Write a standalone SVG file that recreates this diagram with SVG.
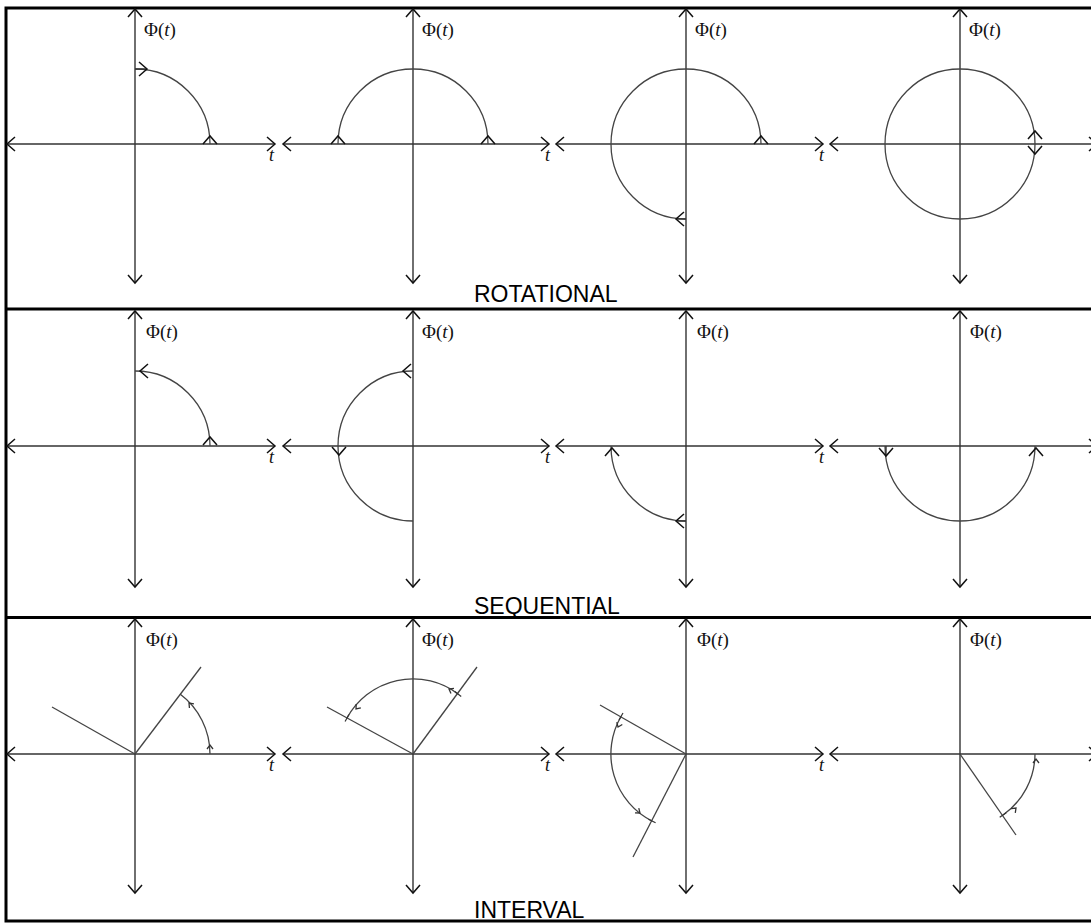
<svg xmlns="http://www.w3.org/2000/svg" xmlns:xlink="http://www.w3.org/1999/xlink" width="1091" height="923" viewBox="0 0 1091 923">
<defs>
<style>
.frame{fill:none;stroke:#000;stroke-width:3}
.sep{stroke:#000;stroke-width:3}
.ax{stroke:#333;stroke-width:1.4;fill:none}
.arc{stroke:#444;stroke-width:1.3;fill:none}
.ray{stroke:#444;stroke-width:1.3;fill:none}
.tick{stroke:#333;stroke-width:1.2}
.phi{font-family:"Liberation Serif","Times New Roman",serif;font-size:19px;fill:#111}
.tl{font-family:"Liberation Serif","Times New Roman",serif;font-size:18px;font-style:italic;fill:#111}
.title{font-family:"Liberation Sans",Arial,sans-serif;font-size:23px;fill:#000}
</style>
<path id="ch" d="M-8,-7 L0,0 L-8,7" fill="none" stroke="#111" stroke-width="1.5"/>
<path id="sm" d="M-4,-3 L0,0 L-4,3" fill="none" stroke="#333" stroke-width="1.3"/>
</defs>
<rect width="1091" height="923" fill="#fff"/>
<rect class="frame" x="6" y="8" width="1100" height="913"/>
<line class="sep" x1="6" y1="309" x2="1091" y2="309"/>
<line class="sep" x1="6" y1="617.5" x2="1091" y2="617.5"/>

<g id="titles">
<text class="title" x="474" y="302">ROTATIONAL</text>
<text class="title" x="474" y="614">SEQUENTIAL</text>
<text class="title" x="474" y="918">INTERVAL</text>
</g>

<!-- ROW 1 -->
<g id="r1p1">
<line class="ax" x1="7" y1="144" x2="275" y2="144"/>
<line class="ax" x1="135" y1="9" x2="135" y2="283"/>
<use href="#ch" transform="translate(7,144) rotate(180)"/>
<use href="#ch" transform="translate(275,144)"/>
<use href="#ch" transform="translate(135,9) rotate(-90)"/>
<use href="#ch" transform="translate(135,283) rotate(90)"/>
<text class="phi" x="144" y="36">Φ(<tspan font-style="italic">t</tspan>)</text>
<text class="tl" x="269" y="161">t</text>
<path class="arc" d="M135,69 A75,75 0 0 1 210,144"/>
<line class="ax" x1="135" y1="69" x2="147" y2="69"/>
<use href="#ch" transform="translate(147,69)"/>
<use href="#ch" transform="translate(210,136) rotate(-90)"/>
</g>
<g id="r1p2">
<line class="ax" x1="283" y1="144" x2="549" y2="144"/>
<line class="ax" x1="413" y1="9" x2="413" y2="283"/>
<use href="#ch" transform="translate(283,144) rotate(180)"/>
<use href="#ch" transform="translate(549,144)"/>
<use href="#ch" transform="translate(413,9) rotate(-90)"/>
<use href="#ch" transform="translate(413,283) rotate(90)"/>
<text class="phi" x="422" y="36">Φ(<tspan font-style="italic">t</tspan>)</text>
<text class="tl" x="545" y="161">t</text>
<path class="arc" d="M338,144 A75,75 0 0 1 488,144"/>
<use href="#ch" transform="translate(338,136) rotate(-90)"/>
<use href="#ch" transform="translate(488,136) rotate(-90)"/>
</g>
<g id="r1p3">
<line class="ax" x1="556" y1="144" x2="823" y2="144"/>
<line class="ax" x1="686" y1="9" x2="686" y2="283"/>
<use href="#ch" transform="translate(556,144) rotate(180)"/>
<use href="#ch" transform="translate(823,144)"/>
<use href="#ch" transform="translate(686,9) rotate(-90)"/>
<use href="#ch" transform="translate(686,283) rotate(90)"/>
<text class="phi" x="695" y="36">Φ(<tspan font-style="italic">t</tspan>)</text>
<text class="tl" x="819" y="161">t</text>
<path class="arc" d="M761,144 A75,75 0 1 0 686,219"/>
<line class="ax" x1="686" y1="219" x2="676" y2="219"/>
<use href="#ch" transform="translate(761,136) rotate(-90)"/>
<use href="#ch" transform="translate(676,219) rotate(180)"/>
</g>
<g id="r1p4">
<line class="ax" x1="830" y1="144" x2="1097" y2="144"/>
<line class="ax" x1="960" y1="9" x2="960" y2="283"/>
<use href="#ch" transform="translate(830,144) rotate(180)"/>
<use href="#ch" transform="translate(1097,144)"/>
<use href="#ch" transform="translate(960,9) rotate(-90)"/>
<use href="#ch" transform="translate(960,283) rotate(90)"/>
<text class="phi" x="969" y="36">Φ(<tspan font-style="italic">t</tspan>)</text>
<circle class="arc" cx="960" cy="144" r="75"/>
<use href="#ch" transform="translate(1035,131) rotate(-90)"/>
<use href="#ch" transform="translate(1035,154) rotate(90)"/>
</g>

<!-- ROW 2 -->
<g id="r2p1">
<line class="ax" x1="7" y1="446" x2="275" y2="446"/>
<line class="ax" x1="135" y1="311" x2="135" y2="587"/>
<use href="#ch" transform="translate(7,446) rotate(180)"/>
<use href="#ch" transform="translate(275,446)"/>
<use href="#ch" transform="translate(135,311) rotate(-90)"/>
<use href="#ch" transform="translate(135,587) rotate(90)"/>
<text class="phi" x="146" y="338">Φ(<tspan font-style="italic">t</tspan>)</text>
<text class="tl" x="269" y="463">t</text>
<path class="arc" d="M210,446 A75,75 0 0 0 135,371"/>
<use href="#ch" transform="translate(140,371) rotate(180)"/>
<use href="#ch" transform="translate(210,437) rotate(-90)"/>
</g>
<g id="r2p2">
<line class="ax" x1="283" y1="446" x2="549" y2="446"/>
<line class="ax" x1="413" y1="311" x2="413" y2="587"/>
<use href="#ch" transform="translate(283,446) rotate(180)"/>
<use href="#ch" transform="translate(549,446)"/>
<use href="#ch" transform="translate(413,311) rotate(-90)"/>
<use href="#ch" transform="translate(413,587) rotate(90)"/>
<text class="phi" x="422" y="338">Φ(<tspan font-style="italic">t</tspan>)</text>
<text class="tl" x="545" y="463">t</text>
<path class="arc" d="M413,371 A75,75 0 0 0 413,521"/>
<use href="#ch" transform="translate(403,371) rotate(180)"/>
<use href="#ch" transform="translate(339,455) rotate(90)"/>
</g>
<g id="r2p3">
<line class="ax" x1="556" y1="446" x2="823" y2="446"/>
<line class="ax" x1="686" y1="311" x2="686" y2="587"/>
<use href="#ch" transform="translate(556,446) rotate(180)"/>
<use href="#ch" transform="translate(823,446)"/>
<use href="#ch" transform="translate(686,311) rotate(-90)"/>
<use href="#ch" transform="translate(686,587) rotate(90)"/>
<text class="phi" x="697" y="338">Φ(<tspan font-style="italic">t</tspan>)</text>
<text class="tl" x="819" y="463">t</text>
<path class="arc" d="M611,446 A75,75 0 0 0 686,521"/>
<line class="ax" x1="686" y1="521" x2="676" y2="521"/>
<use href="#ch" transform="translate(612,448) rotate(-90)"/>
<use href="#ch" transform="translate(676,521) rotate(180)"/>
</g>
<g id="r2p4">
<line class="ax" x1="830" y1="446" x2="1097" y2="446"/>
<line class="ax" x1="960" y1="311" x2="960" y2="587"/>
<use href="#ch" transform="translate(830,446) rotate(180)"/>
<use href="#ch" transform="translate(1097,446)"/>
<use href="#ch" transform="translate(960,311) rotate(-90)"/>
<use href="#ch" transform="translate(960,587) rotate(90)"/>
<text class="phi" x="970" y="338">Φ(<tspan font-style="italic">t</tspan>)</text>
<path class="arc" d="M885,446 A75,75 0 0 0 1035,446"/>
<line class="ax" x1="886" y1="446" x2="886" y2="456"/>
<use href="#ch" transform="translate(886,456) rotate(90)"/>
<use href="#ch" transform="translate(1036,448) rotate(-90)"/>
</g>

<!-- ROW 3 -->
<g id="r3p1">
<line class="ax" x1="7" y1="754" x2="275" y2="754"/>
<line class="ax" x1="135" y1="619" x2="135" y2="893"/>
<use href="#ch" transform="translate(7,754) rotate(180)"/>
<use href="#ch" transform="translate(275,754)"/>
<use href="#ch" transform="translate(135,619) rotate(-90)"/>
<use href="#ch" transform="translate(135,893) rotate(90)"/>
<text class="phi" x="146" y="646">Φ(<tspan font-style="italic">t</tspan>)</text>
<text class="tl" x="269" y="771">t</text>
<line class="ray" x1="135" y1="754" x2="201" y2="667"/>
<line class="ray" x1="135" y1="754" x2="52" y2="707"/>
<path class="arc" d="M210,754 A75,75 0 0 0 180,694"/>
<use href="#sm" transform="translate(210,745) rotate(-90)"/>
<use href="#sm" transform="translate(189,703) rotate(-132)"/>
</g>
<g id="r3p2">
<line class="ax" x1="283" y1="754" x2="549" y2="754"/>
<line class="ax" x1="413" y1="619" x2="413" y2="893"/>
<use href="#ch" transform="translate(283,754) rotate(180)"/>
<use href="#ch" transform="translate(549,754)"/>
<use href="#ch" transform="translate(413,619) rotate(-90)"/>
<use href="#ch" transform="translate(413,893) rotate(90)"/>
<text class="phi" x="422" y="646">Φ(<tspan font-style="italic">t</tspan>)</text>
<text class="tl" x="545" y="771">t</text>
<line class="ray" x1="413" y1="754" x2="477" y2="667"/>
<line class="ray" x1="413" y1="754" x2="327" y2="707"/>
<path class="arc" d="M458,694 A75,75 0 0 0 347,718"/>
<line class="tick" x1="454.8" y1="691.6" x2="461.2" y2="696.4"/>
<line class="tick" x1="345.1" y1="721.5" x2="348.9" y2="714.5"/>
<use href="#sm" transform="translate(449,689) rotate(-150)"/>
<use href="#sm" transform="translate(356,709) rotate(129)"/>
</g>
<g id="r3p3">
<line class="ax" x1="556" y1="754" x2="823" y2="754"/>
<line class="ax" x1="686" y1="619" x2="686" y2="893"/>
<use href="#ch" transform="translate(556,754) rotate(180)"/>
<use href="#ch" transform="translate(823,754)"/>
<use href="#ch" transform="translate(686,619) rotate(-90)"/>
<use href="#ch" transform="translate(686,893) rotate(90)"/>
<text class="phi" x="697" y="646">Φ(<tspan font-style="italic">t</tspan>)</text>
<text class="tl" x="819" y="771">t</text>
<line class="ray" x1="686" y1="754" x2="600" y2="705"/>
<line class="ray" x1="686" y1="754" x2="633" y2="857"/>
<path class="arc" d="M621,716.5 A75,75 0 0 0 652,821"/>
<line class="tick" x1="619" y1="720" x2="623" y2="713"/>
<line class="tick" x1="648.4" y1="819.2" x2="655.6" y2="822.8"/>
<use href="#sm" transform="translate(618,727) rotate(113)"/>
<use href="#sm" transform="translate(640,813) rotate(39)"/>
</g>
<g id="r3p4">
<line class="ax" x1="830" y1="754" x2="1097" y2="754"/>
<line class="ax" x1="960" y1="619" x2="960" y2="893"/>
<use href="#ch" transform="translate(830,754) rotate(180)"/>
<use href="#ch" transform="translate(1097,754)"/>
<use href="#ch" transform="translate(960,619) rotate(-90)"/>
<use href="#ch" transform="translate(960,893) rotate(90)"/>
<text class="phi" x="970" y="646">Φ(<tspan font-style="italic">t</tspan>)</text>
<line class="ray" x1="960" y1="754" x2="1016" y2="835"/>
<path class="arc" d="M1003,815 A75,75 0 0 0 1035,754"/>
<line class="tick" x1="999.7" y1="817.3" x2="1006.3" y2="812.7"/>
<use href="#sm" transform="translate(1016,808) rotate(-45)"/>
<use href="#sm" transform="translate(1036,759) rotate(-90)"/>
</g>
</svg>
